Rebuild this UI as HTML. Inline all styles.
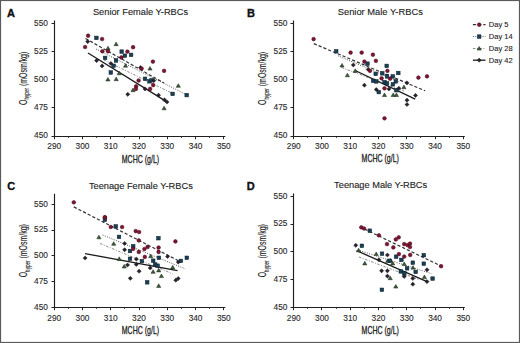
<!DOCTYPE html><html><head><meta charset="utf-8"><style>html,body{margin:0;padding:0;background:#fff;}svg{display:block;}text{font-family:"Liberation Sans",sans-serif;}</style></head><body>
<svg width="520" height="343" viewBox="0 0 520 343">
<rect x="0" y="0" width="520" height="343" fill="#fff"/>
<rect x="0.5" y="0.5" width="519" height="342" fill="none" stroke="#5a5a5a" stroke-width="1.2"/>
<g><path d="M54.5 20.5V136.5H225.32" fill="none" stroke="#1e1e1e" stroke-width="1.15"/><path d="M51.5 136.5H54.5" stroke="#222" stroke-width="1"/><text x="47.9" y="138.4" font-size="8.3" text-anchor="end" fill="#2a2a2a" stroke="#2a2a2a" stroke-width="0.12">450</text><path d="M51.5 107.5H54.5" stroke="#222" stroke-width="1"/><text x="47.9" y="110.28" font-size="8.3" text-anchor="end" fill="#2a2a2a" stroke="#2a2a2a" stroke-width="0.12">475</text><path d="M51.5 79.5H54.5" stroke="#222" stroke-width="1"/><text x="47.9" y="82.15" font-size="8.3" text-anchor="end" fill="#2a2a2a" stroke="#2a2a2a" stroke-width="0.12">500</text><path d="M51.5 51.5H54.5" stroke="#222" stroke-width="1"/><text x="47.9" y="54.02" font-size="8.3" text-anchor="end" fill="#2a2a2a" stroke="#2a2a2a" stroke-width="0.12">525</text><path d="M51.5 23.5H54.5" stroke="#222" stroke-width="1"/><text x="47.9" y="25.9" font-size="8.3" text-anchor="end" fill="#2a2a2a" stroke="#2a2a2a" stroke-width="0.12">550</text><path d="M54.5 136.5V139.2" stroke="#222" stroke-width="1"/><text x="54.2" y="149.1" font-size="8.3" text-anchor="middle" fill="#2a2a2a" stroke="#2a2a2a" stroke-width="0.12">290</text><path d="M68.5 136.5V137.8" stroke="#222" stroke-width="1"/><path d="M82.5 136.5V139.2" stroke="#222" stroke-width="1"/><text x="82.47" y="149.1" font-size="8.3" text-anchor="middle" fill="#2a2a2a" stroke="#2a2a2a" stroke-width="0.12">300</text><path d="M96.5 136.5V137.8" stroke="#222" stroke-width="1"/><path d="M110.5 136.5V139.2" stroke="#222" stroke-width="1"/><text x="110.74" y="149.1" font-size="8.3" text-anchor="middle" fill="#2a2a2a" stroke="#2a2a2a" stroke-width="0.12">310</text><path d="M124.5 136.5V137.8" stroke="#222" stroke-width="1"/><path d="M139.5 136.5V139.2" stroke="#222" stroke-width="1"/><text x="139.01" y="149.1" font-size="8.3" text-anchor="middle" fill="#2a2a2a" stroke="#2a2a2a" stroke-width="0.12">320</text><path d="M153.5 136.5V137.8" stroke="#222" stroke-width="1"/><path d="M167.5 136.5V139.2" stroke="#222" stroke-width="1"/><text x="167.28" y="149.1" font-size="8.3" text-anchor="middle" fill="#2a2a2a" stroke="#2a2a2a" stroke-width="0.12">330</text><path d="M181.5 136.5V137.8" stroke="#222" stroke-width="1"/><path d="M195.5 136.5V139.2" stroke="#222" stroke-width="1"/><text x="195.55" y="149.1" font-size="8.3" text-anchor="middle" fill="#2a2a2a" stroke="#2a2a2a" stroke-width="0.12">340</text><path d="M209.5 136.5V137.8" stroke="#222" stroke-width="1"/><path d="M223.5 136.5V139.2" stroke="#222" stroke-width="1"/><text x="223.82" y="149.1" font-size="8.3" text-anchor="middle" fill="#2a2a2a" stroke="#2a2a2a" stroke-width="0.12">350</text><text x="140.5" y="15" font-size="9.25" text-anchor="middle" fill="#222" stroke="#222" stroke-width="0.12">Senior Female Y-RBCs</text><text x="6.9" y="16.6" font-size="11" font-weight="bold" fill="#111" stroke="#111" stroke-width="0.35">A</text><text transform="translate(140.45,162.7) scale(0.7,1)" x="0" y="0" font-size="10" text-anchor="middle" fill="#222" stroke="#222" stroke-width="0.3">MCHC (g/L)</text><text transform="translate(26.7,104.9) rotate(-90) scale(0.695,1)" x="0" y="0" font-size="10" fill="#222" stroke="#222" stroke-width="0.15">O<tspan font-size="6.6" dy="2.6">hyper</tspan><tspan dy="-2.6" font-size="10"> (mOsm/kg)</tspan></text><line x1="104" y1="60" x2="171" y2="92.7" stroke="#8a8a8a" stroke-width="1" stroke-dasharray="2.5 1.5 1 1.5"/><line x1="96" y1="49" x2="187" y2="95" stroke="#555" stroke-width="1" stroke-dasharray="1 1.4"/><line x1="85.5" y1="38.5" x2="164" y2="83" stroke="#333" stroke-width="1.2" stroke-dasharray="3.2 2"/><line x1="88" y1="53" x2="167.7" y2="102.4" stroke="#1a1a1a" stroke-width="1.3"/><path d="M116.1 42.1L118.2 45.7L114 45.7Z" fill="#3a5a37" stroke="#1a2719" stroke-width="0.5"/><path d="M108 46.2L110.1 49.8L105.9 49.8Z" fill="#3a5a37" stroke="#1a2719" stroke-width="0.5"/><path d="M125.5 63.6L127.6 67.2L123.4 67.2Z" fill="#3a5a37" stroke="#1a2719" stroke-width="0.5"/><path d="M107.9 77.4L110 81L105.8 81Z" fill="#3a5a37" stroke="#1a2719" stroke-width="0.5"/><path d="M116.2 77.1L118.3 80.7L114.1 80.7Z" fill="#3a5a37" stroke="#1a2719" stroke-width="0.5"/><path d="M119.2 71.2L121.3 74.8L117.1 74.8Z" fill="#3a5a37" stroke="#1a2719" stroke-width="0.5"/><path d="M133 88.1L135.1 91.7L130.9 91.7Z" fill="#3a5a37" stroke="#1a2719" stroke-width="0.5"/><path d="M150 66.5L152.1 70.1L147.9 70.1Z" fill="#3a5a37" stroke="#1a2719" stroke-width="0.5"/><path d="M178.3 83.7L180.4 87.3L176.2 87.3Z" fill="#3a5a37" stroke="#1a2719" stroke-width="0.5"/><path d="M164.1 106.2L166.2 109.8L162 109.8Z" fill="#3a5a37" stroke="#1a2719" stroke-width="0.5"/><rect x="94.6" y="36.1" width="3.6" height="3.6" fill="#1b4055" stroke="#0b1f2c" stroke-width="0.5"/><rect x="119.9" y="49.8" width="3.6" height="3.6" fill="#1b4055" stroke="#0b1f2c" stroke-width="0.5"/><rect x="129.3" y="53.1" width="3.6" height="3.6" fill="#1b4055" stroke="#0b1f2c" stroke-width="0.5"/><rect x="123.1" y="53.9" width="3.6" height="3.6" fill="#1b4055" stroke="#0b1f2c" stroke-width="0.5"/><rect x="103.3" y="56.1" width="3.6" height="3.6" fill="#1b4055" stroke="#0b1f2c" stroke-width="0.5"/><rect x="114.2" y="58.7" width="3.6" height="3.6" fill="#1b4055" stroke="#0b1f2c" stroke-width="0.5"/><rect x="111.8" y="64" width="3.6" height="3.6" fill="#1b4055" stroke="#0b1f2c" stroke-width="0.5"/><rect x="109" y="70.7" width="3.6" height="3.6" fill="#1b4055" stroke="#0b1f2c" stroke-width="0.5"/><rect x="143.2" y="77" width="3.6" height="3.6" fill="#1b4055" stroke="#0b1f2c" stroke-width="0.5"/><rect x="147.6" y="79.5" width="3.6" height="3.6" fill="#1b4055" stroke="#0b1f2c" stroke-width="0.5"/><rect x="170.8" y="92.1" width="3.6" height="3.6" fill="#1b4055" stroke="#0b1f2c" stroke-width="0.5"/><rect x="184.9" y="93.3" width="3.6" height="3.6" fill="#1b4055" stroke="#0b1f2c" stroke-width="0.5"/><rect x="149.8" y="78.4" width="3.6" height="3.6" fill="#1b4055" stroke="#0b1f2c" stroke-width="0.5"/><path d="M87.7 39.5L89.8 41.6L87.7 43.7L85.6 41.6Z" fill="#2a2030" stroke="#111111" stroke-width="0.4"/><path d="M96.6 58.5L98.7 60.6L96.6 62.7L94.5 60.6Z" fill="#2a2030" stroke="#111111" stroke-width="0.4"/><path d="M102.1 63.8L104.2 65.9L102.1 68L100 65.9Z" fill="#2a2030" stroke="#111111" stroke-width="0.4"/><path d="M110.9 61.4L113 63.5L110.9 65.6L108.8 63.5Z" fill="#2a2030" stroke="#111111" stroke-width="0.4"/><path d="M127.8 92.2L129.9 94.3L127.8 96.4L125.7 94.3Z" fill="#2a2030" stroke="#111111" stroke-width="0.4"/><path d="M145 86.8L147.1 88.9L145 91L142.9 88.9Z" fill="#2a2030" stroke="#111111" stroke-width="0.4"/><path d="M158.5 93.1L160.6 95.2L158.5 97.3L156.4 95.2Z" fill="#2a2030" stroke="#111111" stroke-width="0.4"/><path d="M164.5 97.8L166.6 99.9L164.5 102L162.4 99.9Z" fill="#2a2030" stroke="#111111" stroke-width="0.4"/><path d="M167 99.9L169.1 102L167 104.1L164.9 102Z" fill="#2a2030" stroke="#111111" stroke-width="0.4"/><path d="M140.5 65.4L142.6 67.5L140.5 69.6L138.4 67.5Z" fill="#2a2030" stroke="#111111" stroke-width="0.4"/><path d="M153.8 78.5L155.9 80.6L153.8 82.7L151.7 80.6Z" fill="#2a2030" stroke="#111111" stroke-width="0.4"/><circle cx="88.1" cy="35.7" r="1.85" fill="#7e1532" stroke="#420a1a" stroke-width="0.5"/><circle cx="102.1" cy="39" r="1.85" fill="#7e1532" stroke="#420a1a" stroke-width="0.5"/><circle cx="85.1" cy="47" r="1.85" fill="#7e1532" stroke="#420a1a" stroke-width="0.5"/><circle cx="102.4" cy="51.3" r="1.85" fill="#7e1532" stroke="#420a1a" stroke-width="0.5"/><circle cx="108" cy="51.3" r="1.85" fill="#7e1532" stroke="#420a1a" stroke-width="0.5"/><circle cx="133.1" cy="47.2" r="1.85" fill="#7e1532" stroke="#420a1a" stroke-width="0.5"/><circle cx="127.4" cy="51.6" r="1.85" fill="#7e1532" stroke="#420a1a" stroke-width="0.5"/><circle cx="121.4" cy="57.4" r="1.85" fill="#7e1532" stroke="#420a1a" stroke-width="0.5"/><circle cx="152.9" cy="61.6" r="1.85" fill="#7e1532" stroke="#420a1a" stroke-width="0.5"/><circle cx="138.6" cy="80.5" r="1.85" fill="#7e1532" stroke="#420a1a" stroke-width="0.5"/><circle cx="136.1" cy="86.3" r="1.85" fill="#7e1532" stroke="#420a1a" stroke-width="0.5"/><circle cx="135.9" cy="88.9" r="1.85" fill="#7e1532" stroke="#420a1a" stroke-width="0.5"/><circle cx="141.6" cy="68.5" r="1.85" fill="#7e1532" stroke="#420a1a" stroke-width="0.5"/><circle cx="153.2" cy="85.1" r="1.85" fill="#7e1532" stroke="#420a1a" stroke-width="0.5"/><circle cx="150.1" cy="88.9" r="1.85" fill="#7e1532" stroke="#420a1a" stroke-width="0.5"/><circle cx="164.1" cy="70.8" r="1.85" fill="#7e1532" stroke="#420a1a" stroke-width="0.5"/></g>
<g><path d="M293.5 20.5V136.5H464.82" fill="none" stroke="#1e1e1e" stroke-width="1.15"/><path d="M290.5 136.5H293.5" stroke="#222" stroke-width="1"/><text x="287.4" y="138.4" font-size="8.3" text-anchor="end" fill="#2a2a2a" stroke="#2a2a2a" stroke-width="0.12">450</text><path d="M290.5 107.5H293.5" stroke="#222" stroke-width="1"/><text x="287.4" y="110.28" font-size="8.3" text-anchor="end" fill="#2a2a2a" stroke="#2a2a2a" stroke-width="0.12">475</text><path d="M290.5 79.5H293.5" stroke="#222" stroke-width="1"/><text x="287.4" y="82.15" font-size="8.3" text-anchor="end" fill="#2a2a2a" stroke="#2a2a2a" stroke-width="0.12">500</text><path d="M290.5 51.5H293.5" stroke="#222" stroke-width="1"/><text x="287.4" y="54.02" font-size="8.3" text-anchor="end" fill="#2a2a2a" stroke="#2a2a2a" stroke-width="0.12">525</text><path d="M290.5 23.5H293.5" stroke="#222" stroke-width="1"/><text x="287.4" y="25.9" font-size="8.3" text-anchor="end" fill="#2a2a2a" stroke="#2a2a2a" stroke-width="0.12">550</text><path d="M293.5 136.5V139.2" stroke="#222" stroke-width="1"/><text x="293.7" y="149.1" font-size="8.3" text-anchor="middle" fill="#2a2a2a" stroke="#2a2a2a" stroke-width="0.12">290</text><path d="M307.5 136.5V137.8" stroke="#222" stroke-width="1"/><path d="M321.5 136.5V139.2" stroke="#222" stroke-width="1"/><text x="321.97" y="149.1" font-size="8.3" text-anchor="middle" fill="#2a2a2a" stroke="#2a2a2a" stroke-width="0.12">300</text><path d="M336.5 136.5V137.8" stroke="#222" stroke-width="1"/><path d="M350.5 136.5V139.2" stroke="#222" stroke-width="1"/><text x="350.24" y="149.1" font-size="8.3" text-anchor="middle" fill="#2a2a2a" stroke="#2a2a2a" stroke-width="0.12">310</text><path d="M364.5 136.5V137.8" stroke="#222" stroke-width="1"/><path d="M378.5 136.5V139.2" stroke="#222" stroke-width="1"/><text x="378.51" y="149.1" font-size="8.3" text-anchor="middle" fill="#2a2a2a" stroke="#2a2a2a" stroke-width="0.12">320</text><path d="M392.5 136.5V137.8" stroke="#222" stroke-width="1"/><path d="M406.5 136.5V139.2" stroke="#222" stroke-width="1"/><text x="406.78" y="149.1" font-size="8.3" text-anchor="middle" fill="#2a2a2a" stroke="#2a2a2a" stroke-width="0.12">330</text><path d="M420.5 136.5V137.8" stroke="#222" stroke-width="1"/><path d="M435.5 136.5V139.2" stroke="#222" stroke-width="1"/><text x="435.05" y="149.1" font-size="8.3" text-anchor="middle" fill="#2a2a2a" stroke="#2a2a2a" stroke-width="0.12">340</text><path d="M449.5 136.5V137.8" stroke="#222" stroke-width="1"/><path d="M463.5 136.5V139.2" stroke="#222" stroke-width="1"/><text x="463.32" y="149.1" font-size="8.3" text-anchor="middle" fill="#2a2a2a" stroke="#2a2a2a" stroke-width="0.12">350</text><text x="380.3" y="15" font-size="9.35" text-anchor="middle" fill="#222" stroke="#222" stroke-width="0.12">Senior Male Y-RBCs</text><text x="247.1" y="16.7" font-size="11" font-weight="bold" fill="#111" stroke="#111" stroke-width="0.35">B</text><text transform="translate(380.25,162.3) scale(0.7,1)" x="0" y="0" font-size="10" text-anchor="middle" fill="#222" stroke="#222" stroke-width="0.3">MCHC (g/L)</text><text transform="translate(266.2,105) rotate(-90) scale(0.695,1)" x="0" y="0" font-size="10" fill="#222" stroke="#222" stroke-width="0.15">O<tspan font-size="6.6" dy="2.6">hyper</tspan><tspan dy="-2.6" font-size="10"> (mOsm/kg)</tspan></text><line x1="341.5" y1="67.5" x2="404" y2="91" stroke="#8a8a8a" stroke-width="1" stroke-dasharray="2.5 1.5 1 1.5"/><line x1="338" y1="55.8" x2="400" y2="82" stroke="#555" stroke-width="1" stroke-dasharray="1 1.4"/><line x1="313.8" y1="43.6" x2="425.1" y2="90.8" stroke="#333" stroke-width="1.2" stroke-dasharray="3.2 2"/><line x1="355.2" y1="70.5" x2="415.2" y2="99.2" stroke="#1a1a1a" stroke-width="1.3"/><path d="M342 63.4L344.1 67L339.9 67Z" fill="#3a5a37" stroke="#1a2719" stroke-width="0.5"/><path d="M347.4 73.2L349.5 76.8L345.3 76.8Z" fill="#3a5a37" stroke="#1a2719" stroke-width="0.5"/><path d="M355.2 68.8L357.3 72.4L353.1 72.4Z" fill="#3a5a37" stroke="#1a2719" stroke-width="0.5"/><path d="M403.9 85.1L406 88.7L401.8 88.7Z" fill="#3a5a37" stroke="#1a2719" stroke-width="0.5"/><path d="M384.5 92.9L386.6 96.5L382.4 96.5Z" fill="#3a5a37" stroke="#1a2719" stroke-width="0.5"/><path d="M393.2 92.9L395.3 96.5L391.1 96.5Z" fill="#3a5a37" stroke="#1a2719" stroke-width="0.5"/><path d="M396.4 92.9L398.5 96.5L394.3 96.5Z" fill="#3a5a37" stroke="#1a2719" stroke-width="0.5"/><rect x="334.4" y="49.5" width="3.6" height="3.6" fill="#1b4055" stroke="#0b1f2c" stroke-width="0.5"/><rect x="365.7" y="61.9" width="3.6" height="3.6" fill="#1b4055" stroke="#0b1f2c" stroke-width="0.5"/><rect x="384.9" y="64.1" width="3.6" height="3.6" fill="#1b4055" stroke="#0b1f2c" stroke-width="0.5"/><rect x="373.9" y="72.1" width="3.6" height="3.6" fill="#1b4055" stroke="#0b1f2c" stroke-width="0.5"/><rect x="380.5" y="71.5" width="3.6" height="3.6" fill="#1b4055" stroke="#0b1f2c" stroke-width="0.5"/><rect x="396.5" y="71.2" width="3.6" height="3.6" fill="#1b4055" stroke="#0b1f2c" stroke-width="0.5"/><rect x="385.2" y="74.6" width="3.6" height="3.6" fill="#1b4055" stroke="#0b1f2c" stroke-width="0.5"/><rect x="391.1" y="74.6" width="3.6" height="3.6" fill="#1b4055" stroke="#0b1f2c" stroke-width="0.5"/><rect x="371.4" y="79" width="3.6" height="3.6" fill="#1b4055" stroke="#0b1f2c" stroke-width="0.5"/><rect x="374.5" y="79.6" width="3.6" height="3.6" fill="#1b4055" stroke="#0b1f2c" stroke-width="0.5"/><rect x="382.7" y="80.3" width="3.6" height="3.6" fill="#1b4055" stroke="#0b1f2c" stroke-width="0.5"/><rect x="385.2" y="81.5" width="3.6" height="3.6" fill="#1b4055" stroke="#0b1f2c" stroke-width="0.5"/><rect x="394" y="79.6" width="3.6" height="3.6" fill="#1b4055" stroke="#0b1f2c" stroke-width="0.5"/><rect x="391.1" y="82.5" width="3.6" height="3.6" fill="#1b4055" stroke="#0b1f2c" stroke-width="0.5"/><rect x="394.6" y="88.4" width="3.6" height="3.6" fill="#1b4055" stroke="#0b1f2c" stroke-width="0.5"/><rect x="377" y="90.3" width="3.6" height="3.6" fill="#1b4055" stroke="#0b1f2c" stroke-width="0.5"/><path d="M353.3 62.9L355.4 65L353.3 67.1L351.2 65Z" fill="#2a2030" stroke="#111111" stroke-width="0.4"/><path d="M364.4 83.1L366.5 85.2L364.4 87.3L362.3 85.2Z" fill="#2a2030" stroke="#111111" stroke-width="0.4"/><path d="M368.2 67.4L370.3 69.5L368.2 71.6L366.1 69.5Z" fill="#2a2030" stroke="#111111" stroke-width="0.4"/><path d="M407 80.8L409.1 82.9L407 85L404.9 82.9Z" fill="#2a2030" stroke="#111111" stroke-width="0.4"/><path d="M388.9 86.9L391 89L388.9 91.1L386.8 89Z" fill="#2a2030" stroke="#111111" stroke-width="0.4"/><path d="M376.3 87.5L378.4 89.6L376.3 91.7L374.2 89.6Z" fill="#2a2030" stroke="#111111" stroke-width="0.4"/><path d="M398.9 86.2L401 88.3L398.9 90.4L396.8 88.3Z" fill="#2a2030" stroke="#111111" stroke-width="0.4"/><path d="M415.5 93.3L417.6 95.4L415.5 97.5L413.4 95.4Z" fill="#2a2030" stroke="#111111" stroke-width="0.4"/><path d="M407 98.1L409.1 100.2L407 102.3L404.9 100.2Z" fill="#2a2030" stroke="#111111" stroke-width="0.4"/><path d="M407 102.4L409.1 104.5L407 106.6L404.9 104.5Z" fill="#2a2030" stroke="#111111" stroke-width="0.4"/><circle cx="313.6" cy="39.1" r="1.85" fill="#7e1532" stroke="#420a1a" stroke-width="0.5"/><circle cx="350.6" cy="52.6" r="1.85" fill="#7e1532" stroke="#420a1a" stroke-width="0.5"/><circle cx="361.7" cy="52.6" r="1.85" fill="#7e1532" stroke="#420a1a" stroke-width="0.5"/><circle cx="364.4" cy="61.6" r="1.85" fill="#7e1532" stroke="#420a1a" stroke-width="0.5"/><circle cx="372.9" cy="54.7" r="1.85" fill="#7e1532" stroke="#420a1a" stroke-width="0.5"/><circle cx="375.9" cy="60.8" r="1.85" fill="#7e1532" stroke="#420a1a" stroke-width="0.5"/><circle cx="370" cy="70.8" r="1.85" fill="#7e1532" stroke="#420a1a" stroke-width="0.5"/><circle cx="387.4" cy="70.8" r="1.85" fill="#7e1532" stroke="#420a1a" stroke-width="0.5"/><circle cx="381.6" cy="78.3" r="1.85" fill="#7e1532" stroke="#420a1a" stroke-width="0.5"/><circle cx="390.1" cy="78.7" r="1.85" fill="#7e1532" stroke="#420a1a" stroke-width="0.5"/><circle cx="384.5" cy="88.3" r="1.85" fill="#7e1532" stroke="#420a1a" stroke-width="0.5"/><circle cx="418.4" cy="77.6" r="1.85" fill="#7e1532" stroke="#420a1a" stroke-width="0.5"/><circle cx="427" cy="76.3" r="1.85" fill="#7e1532" stroke="#420a1a" stroke-width="0.5"/><circle cx="384.5" cy="118.3" r="1.85" fill="#7e1532" stroke="#420a1a" stroke-width="0.5"/></g>
<g><path d="M54.5 193.8V307.5H225.32" fill="none" stroke="#1e1e1e" stroke-width="1.15"/><path d="M51.5 307.5H54.5" stroke="#222" stroke-width="1"/><text x="47.9" y="309.5" font-size="8.3" text-anchor="end" fill="#2a2a2a" stroke="#2a2a2a" stroke-width="0.12">450</text><path d="M51.5 281.5H54.5" stroke="#222" stroke-width="1"/><text x="47.9" y="283.82" font-size="8.3" text-anchor="end" fill="#2a2a2a" stroke="#2a2a2a" stroke-width="0.12">475</text><path d="M51.5 255.5H54.5" stroke="#222" stroke-width="1"/><text x="47.9" y="258.15" font-size="8.3" text-anchor="end" fill="#2a2a2a" stroke="#2a2a2a" stroke-width="0.12">500</text><path d="M51.5 230.5H54.5" stroke="#222" stroke-width="1"/><text x="47.9" y="232.48" font-size="8.3" text-anchor="end" fill="#2a2a2a" stroke="#2a2a2a" stroke-width="0.12">525</text><path d="M51.5 204.5H54.5" stroke="#222" stroke-width="1"/><text x="47.9" y="206.8" font-size="8.3" text-anchor="end" fill="#2a2a2a" stroke="#2a2a2a" stroke-width="0.12">550</text><path d="M54.5 307.5V310.2" stroke="#222" stroke-width="1"/><text x="54.2" y="320.7" font-size="8.3" text-anchor="middle" fill="#2a2a2a" stroke="#2a2a2a" stroke-width="0.12">290</text><path d="M68.5 307.5V308.8" stroke="#222" stroke-width="1"/><path d="M82.5 307.5V310.2" stroke="#222" stroke-width="1"/><text x="82.47" y="320.7" font-size="8.3" text-anchor="middle" fill="#2a2a2a" stroke="#2a2a2a" stroke-width="0.12">300</text><path d="M96.5 307.5V308.8" stroke="#222" stroke-width="1"/><path d="M110.5 307.5V310.2" stroke="#222" stroke-width="1"/><text x="110.74" y="320.7" font-size="8.3" text-anchor="middle" fill="#2a2a2a" stroke="#2a2a2a" stroke-width="0.12">310</text><path d="M124.5 307.5V308.8" stroke="#222" stroke-width="1"/><path d="M139.5 307.5V310.2" stroke="#222" stroke-width="1"/><text x="139.01" y="320.7" font-size="8.3" text-anchor="middle" fill="#2a2a2a" stroke="#2a2a2a" stroke-width="0.12">320</text><path d="M153.5 307.5V308.8" stroke="#222" stroke-width="1"/><path d="M167.5 307.5V310.2" stroke="#222" stroke-width="1"/><text x="167.28" y="320.7" font-size="8.3" text-anchor="middle" fill="#2a2a2a" stroke="#2a2a2a" stroke-width="0.12">330</text><path d="M181.5 307.5V308.8" stroke="#222" stroke-width="1"/><path d="M195.5 307.5V310.2" stroke="#222" stroke-width="1"/><text x="195.55" y="320.7" font-size="8.3" text-anchor="middle" fill="#2a2a2a" stroke="#2a2a2a" stroke-width="0.12">340</text><path d="M209.5 307.5V308.8" stroke="#222" stroke-width="1"/><path d="M223.5 307.5V310.2" stroke="#222" stroke-width="1"/><text x="223.82" y="320.7" font-size="8.3" text-anchor="middle" fill="#2a2a2a" stroke="#2a2a2a" stroke-width="0.12">350</text><text x="140.85" y="188.6" font-size="9.25" text-anchor="middle" fill="#222" stroke="#222" stroke-width="0.12">Teenage Female Y-RBCs</text><text x="7.3" y="190.2" font-size="11" font-weight="bold" fill="#111" stroke="#111" stroke-width="0.35">C</text><text transform="translate(140.45,333.8) scale(0.7,1)" x="0" y="0" font-size="10" text-anchor="middle" fill="#222" stroke="#222" stroke-width="0.3">MCHC (g/L)</text><text transform="translate(26.9,277.3) rotate(-90) scale(0.695,1)" x="0" y="0" font-size="10" fill="#222" stroke="#222" stroke-width="0.15">O<tspan font-size="6.6" dy="2.6">hyper</tspan><tspan dy="-2.6" font-size="10"> (mOsm/kg)</tspan></text><line x1="100.1" y1="243.5" x2="172.5" y2="273.8" stroke="#8a8a8a" stroke-width="1" stroke-dasharray="2.5 1.5 1 1.5"/><line x1="102.6" y1="235" x2="185.1" y2="268.8" stroke="#555" stroke-width="1" stroke-dasharray="1 1.4"/><line x1="73.8" y1="206.9" x2="178" y2="260.5" stroke="#333" stroke-width="1.2" stroke-dasharray="3.2 2"/><line x1="85.1" y1="253.6" x2="177.5" y2="270.7" stroke="#1a1a1a" stroke-width="1.3"/><path d="M98.9 235.2L101 238.8L96.8 238.8Z" fill="#3a5a37" stroke="#1a2719" stroke-width="0.5"/><path d="M113.7 241.7L115.8 245.3L111.6 245.3Z" fill="#3a5a37" stroke="#1a2719" stroke-width="0.5"/><path d="M119.2 256.8L121.3 260.4L117.1 260.4Z" fill="#3a5a37" stroke="#1a2719" stroke-width="0.5"/><path d="M124.2 264.4L126.3 268L122.1 268Z" fill="#3a5a37" stroke="#1a2719" stroke-width="0.5"/><path d="M150.7 254.1L152.8 257.7L148.6 257.7Z" fill="#3a5a37" stroke="#1a2719" stroke-width="0.5"/><path d="M172.7 265.3L174.8 268.9L170.6 268.9Z" fill="#3a5a37" stroke="#1a2719" stroke-width="0.5"/><path d="M153.1 269.7L155.2 273.3L151 273.3Z" fill="#3a5a37" stroke="#1a2719" stroke-width="0.5"/><path d="M158.7 268.3L160.8 271.9L156.6 271.9Z" fill="#3a5a37" stroke="#1a2719" stroke-width="0.5"/><path d="M161.4 274L163.5 277.6L159.3 277.6Z" fill="#3a5a37" stroke="#1a2719" stroke-width="0.5"/><path d="M158.7 283.8L160.8 287.4L156.6 287.4Z" fill="#3a5a37" stroke="#1a2719" stroke-width="0.5"/><rect x="103.1" y="218" width="3.6" height="3.6" fill="#1b4055" stroke="#0b1f2c" stroke-width="0.5"/><rect x="114" y="224.6" width="3.6" height="3.6" fill="#1b4055" stroke="#0b1f2c" stroke-width="0.5"/><rect x="117.2" y="235.1" width="3.6" height="3.6" fill="#1b4055" stroke="#0b1f2c" stroke-width="0.5"/><rect x="156.6" y="236.4" width="3.6" height="3.6" fill="#1b4055" stroke="#0b1f2c" stroke-width="0.5"/><rect x="131.4" y="244.4" width="3.6" height="3.6" fill="#1b4055" stroke="#0b1f2c" stroke-width="0.5"/><rect x="128.2" y="249.2" width="3.6" height="3.6" fill="#1b4055" stroke="#0b1f2c" stroke-width="0.5"/><rect x="157.1" y="256" width="3.6" height="3.6" fill="#1b4055" stroke="#0b1f2c" stroke-width="0.5"/><rect x="185" y="256" width="3.6" height="3.6" fill="#1b4055" stroke="#0b1f2c" stroke-width="0.5"/><rect x="179.1" y="259.1" width="3.6" height="3.6" fill="#1b4055" stroke="#0b1f2c" stroke-width="0.5"/><rect x="128.2" y="257" width="3.6" height="3.6" fill="#1b4055" stroke="#0b1f2c" stroke-width="0.5"/><rect x="140.1" y="259.3" width="3.6" height="3.6" fill="#1b4055" stroke="#0b1f2c" stroke-width="0.5"/><rect x="151.4" y="258.9" width="3.6" height="3.6" fill="#1b4055" stroke="#0b1f2c" stroke-width="0.5"/><rect x="153.3" y="262.7" width="3.6" height="3.6" fill="#1b4055" stroke="#0b1f2c" stroke-width="0.5"/><rect x="155.8" y="263.9" width="3.6" height="3.6" fill="#1b4055" stroke="#0b1f2c" stroke-width="0.5"/><rect x="145.4" y="280.5" width="3.6" height="3.6" fill="#1b4055" stroke="#0b1f2c" stroke-width="0.5"/><path d="M124.6 241.4L126.7 243.5L124.6 245.6L122.5 243.5Z" fill="#2a2030" stroke="#111111" stroke-width="0.4"/><path d="M124.6 247.7L126.7 249.8L124.6 251.9L122.5 249.8Z" fill="#2a2030" stroke="#111111" stroke-width="0.4"/><path d="M85.1 255.9L87.2 258L85.1 260.1L83 258Z" fill="#2a2030" stroke="#111111" stroke-width="0.4"/><path d="M127.5 262.9L129.6 265L127.5 267.1L125.4 265Z" fill="#2a2030" stroke="#111111" stroke-width="0.4"/><path d="M167.6 254.4L169.7 256.5L167.6 258.6L165.5 256.5Z" fill="#2a2030" stroke="#111111" stroke-width="0.4"/><path d="M178.3 260L180.4 262.1L178.3 264.2L176.2 262.1Z" fill="#2a2030" stroke="#111111" stroke-width="0.4"/><path d="M136.3 257L138.4 259.1L136.3 261.2L134.2 259.1Z" fill="#2a2030" stroke="#111111" stroke-width="0.4"/><path d="M136.3 262.3L138.4 264.4L136.3 266.5L134.2 264.4Z" fill="#2a2030" stroke="#111111" stroke-width="0.4"/><path d="M150.2 265.8L152.3 267.9L150.2 270L148.1 267.9Z" fill="#2a2030" stroke="#111111" stroke-width="0.4"/><path d="M139.1 269.1L141.2 271.2L139.1 273.3L137 271.2Z" fill="#2a2030" stroke="#111111" stroke-width="0.4"/><path d="M130.3 276.2L132.4 278.3L130.3 280.4L128.2 278.3Z" fill="#2a2030" stroke="#111111" stroke-width="0.4"/><path d="M175.8 278.1L177.9 280.2L175.8 282.3L173.7 280.2Z" fill="#2a2030" stroke="#111111" stroke-width="0.4"/><path d="M178.2 276.4L180.3 278.5L178.2 280.6L176.1 278.5Z" fill="#2a2030" stroke="#111111" stroke-width="0.4"/><circle cx="73.8" cy="202.3" r="1.85" fill="#7e1532" stroke="#420a1a" stroke-width="0.5"/><circle cx="104.9" cy="217.3" r="1.85" fill="#7e1532" stroke="#420a1a" stroke-width="0.5"/><circle cx="110.8" cy="227" r="1.85" fill="#7e1532" stroke="#420a1a" stroke-width="0.5"/><circle cx="122.1" cy="227" r="1.85" fill="#7e1532" stroke="#420a1a" stroke-width="0.5"/><circle cx="135.7" cy="231.1" r="1.85" fill="#7e1532" stroke="#420a1a" stroke-width="0.5"/><circle cx="139.1" cy="232" r="1.85" fill="#7e1532" stroke="#420a1a" stroke-width="0.5"/><circle cx="138.8" cy="240.4" r="1.85" fill="#7e1532" stroke="#420a1a" stroke-width="0.5"/><circle cx="175.4" cy="241.4" r="1.85" fill="#7e1532" stroke="#420a1a" stroke-width="0.5"/><circle cx="147.6" cy="246.9" r="1.85" fill="#7e1532" stroke="#420a1a" stroke-width="0.5"/><circle cx="158.6" cy="247.5" r="1.85" fill="#7e1532" stroke="#420a1a" stroke-width="0.5"/><circle cx="133.2" cy="248.8" r="1.85" fill="#7e1532" stroke="#420a1a" stroke-width="0.5"/><circle cx="138.8" cy="251.9" r="1.85" fill="#7e1532" stroke="#420a1a" stroke-width="0.5"/><circle cx="144.4" cy="249" r="1.85" fill="#7e1532" stroke="#420a1a" stroke-width="0.5"/><circle cx="158.6" cy="251.9" r="1.85" fill="#7e1532" stroke="#420a1a" stroke-width="0.5"/><circle cx="144.8" cy="256.9" r="1.85" fill="#7e1532" stroke="#420a1a" stroke-width="0.5"/><circle cx="104.9" cy="217.3" r="1.85" fill="#7e1532" stroke="#420a1a" stroke-width="0.5"/></g>
<g><path d="M293.5 193.5V307.5H464.82" fill="none" stroke="#1e1e1e" stroke-width="1.15"/><path d="M290.5 307.5H293.5" stroke="#222" stroke-width="1"/><text x="287.4" y="309.5" font-size="8.3" text-anchor="end" fill="#2a2a2a" stroke="#2a2a2a" stroke-width="0.12">450</text><path d="M290.5 279.5H293.5" stroke="#222" stroke-width="1"/><text x="287.4" y="281.82" font-size="8.3" text-anchor="end" fill="#2a2a2a" stroke="#2a2a2a" stroke-width="0.12">475</text><path d="M290.5 251.5H293.5" stroke="#222" stroke-width="1"/><text x="287.4" y="254.15" font-size="8.3" text-anchor="end" fill="#2a2a2a" stroke="#2a2a2a" stroke-width="0.12">500</text><path d="M290.5 224.5H293.5" stroke="#222" stroke-width="1"/><text x="287.4" y="226.48" font-size="8.3" text-anchor="end" fill="#2a2a2a" stroke="#2a2a2a" stroke-width="0.12">525</text><path d="M290.5 196.5H293.5" stroke="#222" stroke-width="1"/><text x="287.4" y="198.8" font-size="8.3" text-anchor="end" fill="#2a2a2a" stroke="#2a2a2a" stroke-width="0.12">550</text><path d="M293.5 307.5V310.2" stroke="#222" stroke-width="1"/><text x="293.7" y="320.7" font-size="8.3" text-anchor="middle" fill="#2a2a2a" stroke="#2a2a2a" stroke-width="0.12">290</text><path d="M307.5 307.5V308.8" stroke="#222" stroke-width="1"/><path d="M321.5 307.5V310.2" stroke="#222" stroke-width="1"/><text x="321.97" y="320.7" font-size="8.3" text-anchor="middle" fill="#2a2a2a" stroke="#2a2a2a" stroke-width="0.12">300</text><path d="M336.5 307.5V308.8" stroke="#222" stroke-width="1"/><path d="M350.5 307.5V310.2" stroke="#222" stroke-width="1"/><text x="350.24" y="320.7" font-size="8.3" text-anchor="middle" fill="#2a2a2a" stroke="#2a2a2a" stroke-width="0.12">310</text><path d="M364.5 307.5V308.8" stroke="#222" stroke-width="1"/><path d="M378.5 307.5V310.2" stroke="#222" stroke-width="1"/><text x="378.51" y="320.7" font-size="8.3" text-anchor="middle" fill="#2a2a2a" stroke="#2a2a2a" stroke-width="0.12">320</text><path d="M392.5 307.5V308.8" stroke="#222" stroke-width="1"/><path d="M406.5 307.5V310.2" stroke="#222" stroke-width="1"/><text x="406.78" y="320.7" font-size="8.3" text-anchor="middle" fill="#2a2a2a" stroke="#2a2a2a" stroke-width="0.12">330</text><path d="M420.5 307.5V308.8" stroke="#222" stroke-width="1"/><path d="M435.5 307.5V310.2" stroke="#222" stroke-width="1"/><text x="435.05" y="320.7" font-size="8.3" text-anchor="middle" fill="#2a2a2a" stroke="#2a2a2a" stroke-width="0.12">340</text><path d="M449.5 307.5V308.8" stroke="#222" stroke-width="1"/><path d="M463.5 307.5V310.2" stroke="#222" stroke-width="1"/><text x="463.32" y="320.7" font-size="8.3" text-anchor="middle" fill="#2a2a2a" stroke="#2a2a2a" stroke-width="0.12">350</text><text x="380.65" y="188.3" font-size="9.25" text-anchor="middle" fill="#222" stroke="#222" stroke-width="0.12">Teenage Male Y-RBCs</text><text x="246.7" y="190.1" font-size="11" font-weight="bold" fill="#111" stroke="#111" stroke-width="0.35">D</text><text transform="translate(380.25,333.8) scale(0.7,1)" x="0" y="0" font-size="10" text-anchor="middle" fill="#222" stroke="#222" stroke-width="0.3">MCHC (g/L)</text><text transform="translate(266.4,277.3) rotate(-90) scale(0.695,1)" x="0" y="0" font-size="10" fill="#222" stroke="#222" stroke-width="0.15">O<tspan font-size="6.6" dy="2.6">hyper</tspan><tspan dy="-2.6" font-size="10"> (mOsm/kg)</tspan></text><line x1="359" y1="257" x2="420" y2="280" stroke="#8a8a8a" stroke-width="1" stroke-dasharray="2.5 1.5 1 1.5"/><line x1="360" y1="250.7" x2="431.3" y2="273.6" stroke="#555" stroke-width="1" stroke-dasharray="1 1.4"/><line x1="360" y1="226.9" x2="441" y2="266" stroke="#333" stroke-width="1.2" stroke-dasharray="3.2 2"/><line x1="356.6" y1="250.7" x2="427" y2="281.6" stroke="#1a1a1a" stroke-width="1.3"/><path d="M358.6 248.2L360.7 251.8L356.5 251.8Z" fill="#3a5a37" stroke="#1a2719" stroke-width="0.5"/><path d="M376.2 252L378.3 255.6L374.1 255.6Z" fill="#3a5a37" stroke="#1a2719" stroke-width="0.5"/><path d="M364.8 261.3L366.9 264.9L362.7 264.9Z" fill="#3a5a37" stroke="#1a2719" stroke-width="0.5"/><path d="M387.6 258.8L389.7 262.4L385.5 262.4Z" fill="#3a5a37" stroke="#1a2719" stroke-width="0.5"/><path d="M390.2 258.5L392.3 262.1L388.1 262.1Z" fill="#3a5a37" stroke="#1a2719" stroke-width="0.5"/><path d="M392.7 261.3L394.8 264.9L390.6 264.9Z" fill="#3a5a37" stroke="#1a2719" stroke-width="0.5"/><path d="M404.2 261.9L406.3 265.5L402.1 265.5Z" fill="#3a5a37" stroke="#1a2719" stroke-width="0.5"/><path d="M413 265.6L415.1 269.2L410.9 269.2Z" fill="#3a5a37" stroke="#1a2719" stroke-width="0.5"/><path d="M424.4 275L426.5 278.6L422.3 278.6Z" fill="#3a5a37" stroke="#1a2719" stroke-width="0.5"/><path d="M390.2 276.1L392.3 279.7L388.1 279.7Z" fill="#3a5a37" stroke="#1a2719" stroke-width="0.5"/><path d="M395.8 284.5L397.9 288.1L393.7 288.1Z" fill="#3a5a37" stroke="#1a2719" stroke-width="0.5"/><rect x="368" y="228.9" width="3.6" height="3.6" fill="#1b4055" stroke="#0b1f2c" stroke-width="0.5"/><rect x="360.1" y="244" width="3.6" height="3.6" fill="#1b4055" stroke="#0b1f2c" stroke-width="0.5"/><rect x="380.2" y="251.9" width="3.6" height="3.6" fill="#1b4055" stroke="#0b1f2c" stroke-width="0.5"/><rect x="394.3" y="254.9" width="3.6" height="3.6" fill="#1b4055" stroke="#0b1f2c" stroke-width="0.5"/><rect x="399.6" y="258.1" width="3.6" height="3.6" fill="#1b4055" stroke="#0b1f2c" stroke-width="0.5"/><rect x="388.1" y="259" width="3.6" height="3.6" fill="#1b4055" stroke="#0b1f2c" stroke-width="0.5"/><rect x="422" y="253.4" width="3.6" height="3.6" fill="#1b4055" stroke="#0b1f2c" stroke-width="0.5"/><rect x="411" y="260.9" width="3.6" height="3.6" fill="#1b4055" stroke="#0b1f2c" stroke-width="0.5"/><rect x="422" y="261.9" width="3.6" height="3.6" fill="#1b4055" stroke="#0b1f2c" stroke-width="0.5"/><rect x="405.3" y="266.5" width="3.6" height="3.6" fill="#1b4055" stroke="#0b1f2c" stroke-width="0.5"/><rect x="399" y="269.6" width="3.6" height="3.6" fill="#1b4055" stroke="#0b1f2c" stroke-width="0.5"/><rect x="402.5" y="271.7" width="3.6" height="3.6" fill="#1b4055" stroke="#0b1f2c" stroke-width="0.5"/><rect x="413.9" y="270.1" width="3.6" height="3.6" fill="#1b4055" stroke="#0b1f2c" stroke-width="0.5"/><rect x="430.8" y="276.8" width="3.6" height="3.6" fill="#1b4055" stroke="#0b1f2c" stroke-width="0.5"/><rect x="380.1" y="288" width="3.6" height="3.6" fill="#1b4055" stroke="#0b1f2c" stroke-width="0.5"/><path d="M355.8 243.2L357.9 245.3L355.8 247.4L353.7 245.3Z" fill="#2a2030" stroke="#111111" stroke-width="0.4"/><path d="M387.4 252.9L389.5 255L387.4 257.1L385.3 255Z" fill="#2a2030" stroke="#111111" stroke-width="0.4"/><path d="M378.9 257.7L381 259.8L378.9 261.9L376.8 259.8Z" fill="#2a2030" stroke="#111111" stroke-width="0.4"/><path d="M381.6 268.7L383.7 270.8L381.6 272.9L379.5 270.8Z" fill="#2a2030" stroke="#111111" stroke-width="0.4"/><path d="M387.4 268.7L389.5 270.8L387.4 272.9L385.3 270.8Z" fill="#2a2030" stroke="#111111" stroke-width="0.4"/><path d="M387.4 274L389.5 276.1L387.4 278.2L385.3 276.1Z" fill="#2a2030" stroke="#111111" stroke-width="0.4"/><path d="M404.2 274.4L406.3 276.5L404.2 278.6L402.1 276.5Z" fill="#2a2030" stroke="#111111" stroke-width="0.4"/><path d="M412.8 276.3L414.9 278.4L412.8 280.5L410.7 278.4Z" fill="#2a2030" stroke="#111111" stroke-width="0.4"/><path d="M412.8 282.1L414.9 284.2L412.8 286.3L410.7 284.2Z" fill="#2a2030" stroke="#111111" stroke-width="0.4"/><path d="M427 267.7L429.1 269.8L427 271.9L424.9 269.8Z" fill="#2a2030" stroke="#111111" stroke-width="0.4"/><path d="M427 279.5L429.1 281.6L427 283.7L424.9 281.6Z" fill="#2a2030" stroke="#111111" stroke-width="0.4"/><circle cx="361.3" cy="227.3" r="1.85" fill="#7e1532" stroke="#420a1a" stroke-width="0.5"/><circle cx="364.1" cy="228.5" r="1.85" fill="#7e1532" stroke="#420a1a" stroke-width="0.5"/><circle cx="378.9" cy="235.3" r="1.85" fill="#7e1532" stroke="#420a1a" stroke-width="0.5"/><circle cx="395.8" cy="239.4" r="1.85" fill="#7e1532" stroke="#420a1a" stroke-width="0.5"/><circle cx="398.7" cy="237.3" r="1.85" fill="#7e1532" stroke="#420a1a" stroke-width="0.5"/><circle cx="387" cy="244.1" r="1.85" fill="#7e1532" stroke="#420a1a" stroke-width="0.5"/><circle cx="393.3" cy="247.4" r="1.85" fill="#7e1532" stroke="#420a1a" stroke-width="0.5"/><circle cx="404.2" cy="244.1" r="1.85" fill="#7e1532" stroke="#420a1a" stroke-width="0.5"/><circle cx="407.5" cy="245.1" r="1.85" fill="#7e1532" stroke="#420a1a" stroke-width="0.5"/><circle cx="410" cy="243.6" r="1.85" fill="#7e1532" stroke="#420a1a" stroke-width="0.5"/><circle cx="410" cy="247" r="1.85" fill="#7e1532" stroke="#420a1a" stroke-width="0.5"/><circle cx="398.9" cy="254.1" r="1.85" fill="#7e1532" stroke="#420a1a" stroke-width="0.5"/><circle cx="410.2" cy="254.9" r="1.85" fill="#7e1532" stroke="#420a1a" stroke-width="0.5"/><circle cx="404.2" cy="256.6" r="1.85" fill="#7e1532" stroke="#420a1a" stroke-width="0.5"/><circle cx="441.1" cy="266.2" r="1.85" fill="#7e1532" stroke="#420a1a" stroke-width="0.5"/></g>
<line x1="472.9" y1="24.7" x2="485.5" y2="24.7" stroke="#333" stroke-width="1.2" stroke-dasharray="3.2 2"/>
<circle cx="479.2" cy="24.7" r="1.85" fill="#7e1532" stroke="#420a1a" stroke-width="0.5"/>
<text x="488.8" y="27.1" font-size="7.5" fill="#222" stroke="#222" stroke-width="0.1">Day 5</text>
<line x1="472.9" y1="36.6" x2="485.5" y2="36.6" stroke="#555" stroke-width="1" stroke-dasharray="1 1.4"/>
<rect x="477.4" y="34.8" width="3.6" height="3.6" fill="#1b4055" stroke="#0b1f2c" stroke-width="0.5"/>
<text x="488.8" y="38.9" font-size="7.5" fill="#222" stroke="#222" stroke-width="0.1">Day 14</text>
<line x1="472.9" y1="48.5" x2="485.5" y2="48.5" stroke="#8a8a8a" stroke-width="1" stroke-dasharray="2.5 1.5 1 1.5"/>
<path d="M479.2 46.5L481.3 50.1L477.1 50.1Z" fill="#3a5a37" stroke="#1a2719" stroke-width="0.5"/>
<text x="488.8" y="50.7" font-size="7.5" fill="#222" stroke="#222" stroke-width="0.1">Day 28</text>
<line x1="472.9" y1="60.2" x2="485.5" y2="60.2" stroke="#1a1a1a" stroke-width="1.3"/>
<path d="M479.2 58.1L481.3 60.2L479.2 62.3L477.1 60.2Z" fill="#2a2030" stroke="#111111" stroke-width="0.4"/>
<text x="488.8" y="62.5" font-size="7.5" fill="#222" stroke="#222" stroke-width="0.1">Day 42</text>
</svg></body></html>
